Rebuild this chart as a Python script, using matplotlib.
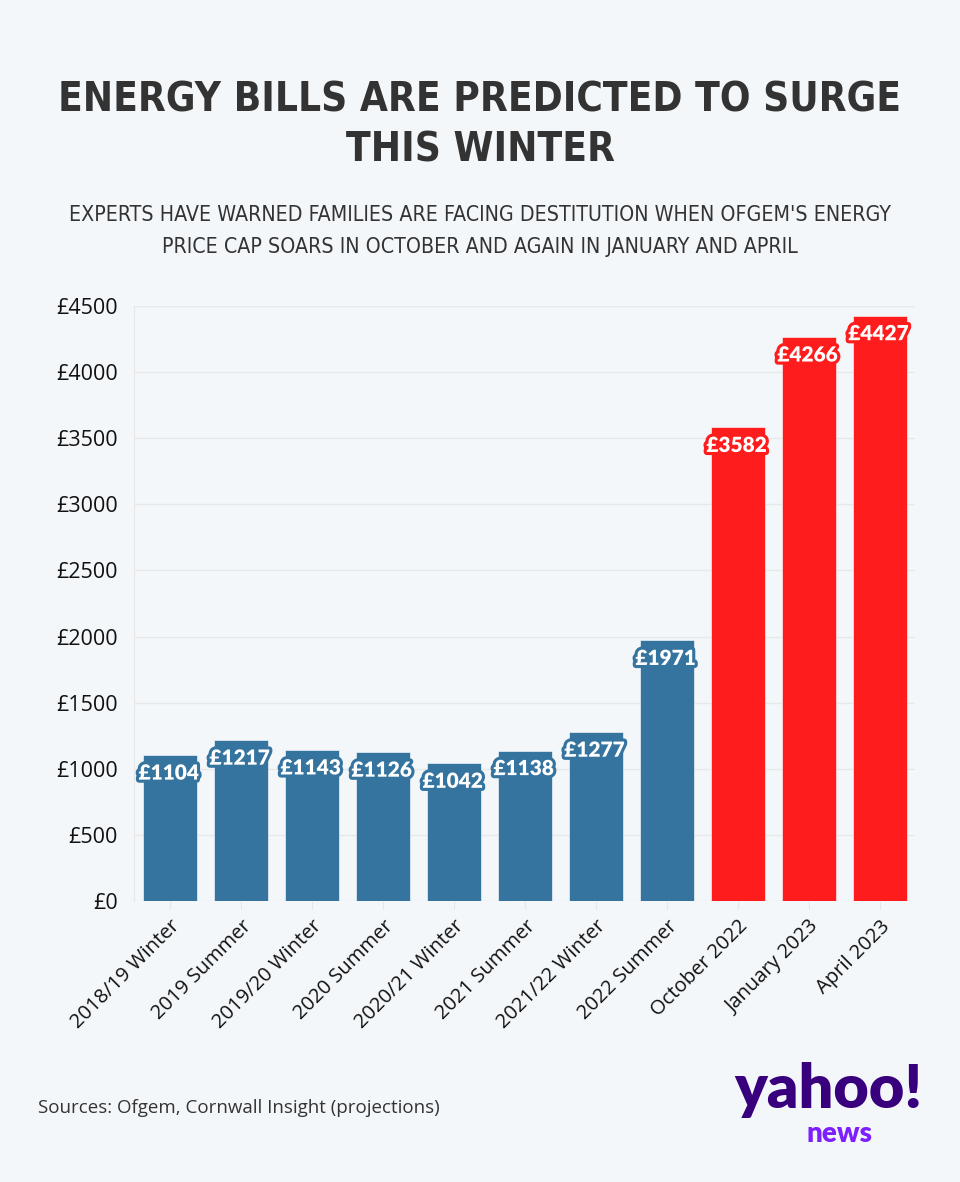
import matplotlib
matplotlib.use("Agg")
import matplotlib.pyplot as plt
import matplotlib.patheffects as pe

periods = ["2018/19 Winter", "2019 Summer", "2019/20 Winter", "2020 Summer",
           "2020/21 Winter", "2021 Summer", "2021/22 Winter", "2022 Summer",
           "October 2022", "January 2023", "April 2023"]
bills = [1104, 1217, 1143, 1126, 1042, 1138, 1277, 1971, 3582, 4266, 4427]
projected = [False] * 8 + [True] * 3
y_ticks = [0, 500, 1000, 1500, 2000, 2500, 3000, 3500, 4000, 4500]

BLUE = "#35749f"
RED = "#ff1c1c"
BG = "#f4f7fa"

fig = plt.figure(figsize=(9.6, 11.82), dpi=100, facecolor=BG)
ax = fig.add_axes([0.1401, 0.2377, 0.8135, 0.5034], facecolor=BG)

colors = [RED if p else BLUE for p in projected]
x = range(len(periods))
bars = ax.bar(x, bills, width=0.76, color=colors, edgecolor="#ffffff", linewidth=0.4, zorder=2)

for b, v, c in zip(bars, bills, colors):
    ax.annotate(f"£{v}", (b.get_x() + b.get_width() / 2, v), xytext=(-1, -13),
                textcoords="offset points", ha="center", va="center",
                fontsize=15, fontweight="heavy", color="white", family="Lato",
                path_effects=[pe.withStroke(linewidth=4.5, foreground=c)], zorder=3)

ax.set_xlim(-0.5, len(periods) - 0.5)
ax.set_ylim(0, 4500)
ax.set_yticks(y_ticks)
ax.set_yticklabels([f"£{t}" for t in y_ticks], fontsize=15.5, family="Open Sans", color="#111111")
ax.set_xticks(list(x))
ax.set_xticklabels(periods, rotation=45, ha="right", rotation_mode="anchor",
                   fontsize=14.5, family="Open Sans", color="#111111")
ax.tick_params(axis="y", length=0, pad=12)
ax.tick_params(axis="x", length=6, color="#e6e6e6", pad=5)
ax.grid(axis="y", color="#e8e8e8", linewidth=1, zorder=0)
for s in ["top", "right", "bottom"]:
    ax.spines[s].set_visible(False)
ax.spines["left"].set_color("#e8e8e8")

renderer = fig.canvas.get_renderer()


def fit_text(y_px, s, width_px, size, **kw):
    # shrink/grow a centred line until it spans width_px
    t = fig.text(0.5, 1 - y_px / 1182, s, ha="center", va="center", fontsize=size,
                 family="DejaVu Sans", fontstretch="condensed", color="#333333", **kw)
    w = t.get_window_extent(renderer).width
    t.set_fontsize(size * width_px / w)
    return t


t1 = fit_text(100, "ENERGY BILLS ARE PREDICTED TO SURGE", 840, 40, fontweight="bold")
fig.text(0.5, 1 - 150 / 1182, "THIS WINTER", ha="center", va="center",
         fontsize=t1.get_fontsize(), fontweight="bold", color="#333333",
         family="DejaVu Sans", fontstretch="condensed")
s1 = fit_text(215, "EXPERTS HAVE WARNED FAMILIES ARE FACING DESTITUTION WHEN OFGEM'S ENERGY", 824, 17)
fig.text(0.5, 1 - 247 / 1182, "PRICE CAP SOARS IN OCTOBER AND AGAIN IN JANUARY AND APRIL",
         ha="center", va="center", fontsize=s1.get_fontsize(), color="#333333",
         family="DejaVu Sans", fontstretch="condensed")

fig.text(38 / 960, 1 - 1108 / 1182, "Sources: Ofgem, Cornwall Insight (projections)",
         ha="left", va="center", fontsize=13.5, color="#333333", family="Open Sans")

fig.text(828 / 960, 1 - 1090 / 1182, "yahoo!", ha="center", va="center", fontsize=44,
         fontweight="heavy", color="#39007e", family="Lato")
fig.text(840 / 960, 1 - 1134 / 1182, "news", ha="center", va="center", fontsize=20,
         fontweight="heavy", color="#7e1fff", family="Lato")

fig.savefig("out.png", dpi=100, facecolor=BG)
